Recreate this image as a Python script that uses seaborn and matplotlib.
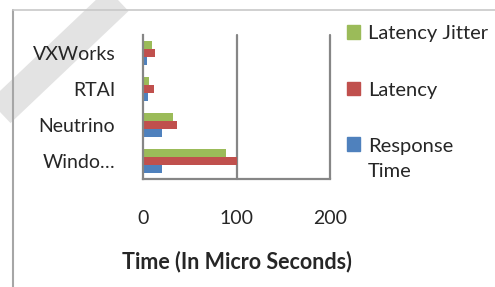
import matplotlib
matplotlib.use("Agg")
import matplotlib.pyplot as plt
import seaborn as sns
import pandas as pd
from matplotlib.lines import Line2D
from matplotlib.patches import Patch, Rectangle
from matplotlib.legend_handler import HandlerPatch
from matplotlib.ticker import FixedLocator

# values (micro seconds)
SYSTEMS = ["VXWorks", "RTAI", "Neutrino", "Windows"]
TICK_LABELS = ["VXWorks", "RTAI", "Neutrino", "Windo…"]
JITTER = [10, 6, 32, 89]
LATENCY = [13, 11.5, 36, 100]
RESPONSE = [4, 5, 20, 20]
SERIES = ["Latency Jitter", "Latency", "Response Time"]
LEGEND_LABELS = ["Latency Jitter", "Latency", "Response\nTime"]
COLORS = ["#9BBB59", "#C0504D", "#4F81BD"]
X_TICKS = [0, 100, 200]

GREY = "#868686"


def main():
    rows = []
    for name, vals in zip(SERIES, [JITTER, LATENCY, RESPONSE]):
        for sys_name, v in zip(SYSTEMS, vals):
            rows.append({"system": sys_name, "series": name, "time": v})
    df = pd.DataFrame(rows)

    sns.set_style("white")
    plt.rcParams["font.family"] = ["Lato", "DejaVu Sans"]

    fig = plt.figure(figsize=(4.95, 2.87), dpi=100)
    ax = fig.add_axes([0.2889, 0.3763, 0.3778, 0.5017])

    palette = dict(zip(SERIES, COLORS))
    sns.barplot(data=df, y="system", x="time", hue="series", order=SYSTEMS,
                hue_order=SERIES, palette=palette, width=0.67, linewidth=0,
                saturation=1, legend=False, ax=ax)

    ax.set_xlim(0, 200)
    ax.set_xticks(X_TICKS)
    ax.set_xticklabels([str(t) for t in X_TICKS], fontsize=14)
    ax.tick_params(axis="x", length=6, width=1.2, color=GREY, pad=16)

    # category ticks sit on the boundaries, labels in the middle
    ax.set_yticks(range(len(SYSTEMS)))
    ax.set_yticklabels(TICK_LABELS, fontsize=14)
    ax.yaxis.set_minor_locator(FixedLocator([i - 0.5 for i in range(len(SYSTEMS) + 1)]))
    ax.tick_params(axis="y", which="major", length=0, pad=20)
    ax.tick_params(axis="y", which="minor", length=6, width=1.2, color=GREY)
    ax.set_ylabel("")

    ax.set_xlabel("Time (In Micro Seconds)", fontsize=15.5, fontweight="bold", labelpad=17)

    for t in X_TICKS[1:]:
        ax.axvline(t, color=GREY, lw=1.6, zorder=0, clip_on=False)
    for s in ["top", "right"]:
        ax.spines[s].set_visible(False)
    ax.spines["left"].set_color(GREY)
    ax.spines["left"].set_linewidth(1.6)
    ax.spines["bottom"].set_color(GREY)
    ax.spines["bottom"].set_linewidth(1.6)

    # legend, square marker of "Response Time" aligned with its first line
    def square(shift):
        def f(legend, orig_handle, xdescent, ydescent, width, height, fontsize):
            return Rectangle((-xdescent, -ydescent + shift * fontsize), width, height)
        return f

    handles = [Patch(color=c) for c in COLORS]
    hmap = {handles[2]: HandlerPatch(patch_func=square(0.75))}
    leg = fig.legend(handles, LEGEND_LABELS, loc="upper left", bbox_to_anchor=(0.680, 0.947),
                     frameon=False, fontsize=14.5, handlelength=0.67, handleheight=0.67,
                     handletextpad=0.4, labelspacing=1.95, borderpad=0, handler_map=hmap)
    for t in leg.get_texts():
        t.set_linespacing(1.6)

    # chart frame and faint watermark stroke
    fig.add_artist(Line2D([118 / 495, 0], [1, 1 - 112 / 287], color="#e3e3e3",
                          lw=22, solid_capstyle="butt", zorder=-1))
    fig.add_artist(Line2D([13 / 495, 13 / 495], [0, 1 - 10 / 287], color="#a6a6a6", lw=1.5))
    fig.add_artist(Line2D([13 / 495, 1], [1 - 10 / 287, 1 - 10 / 287], color="#c8c8c8", lw=1.2))

    fig.savefig("out.png", dpi=100)


if __name__ == "__main__":
    main()
